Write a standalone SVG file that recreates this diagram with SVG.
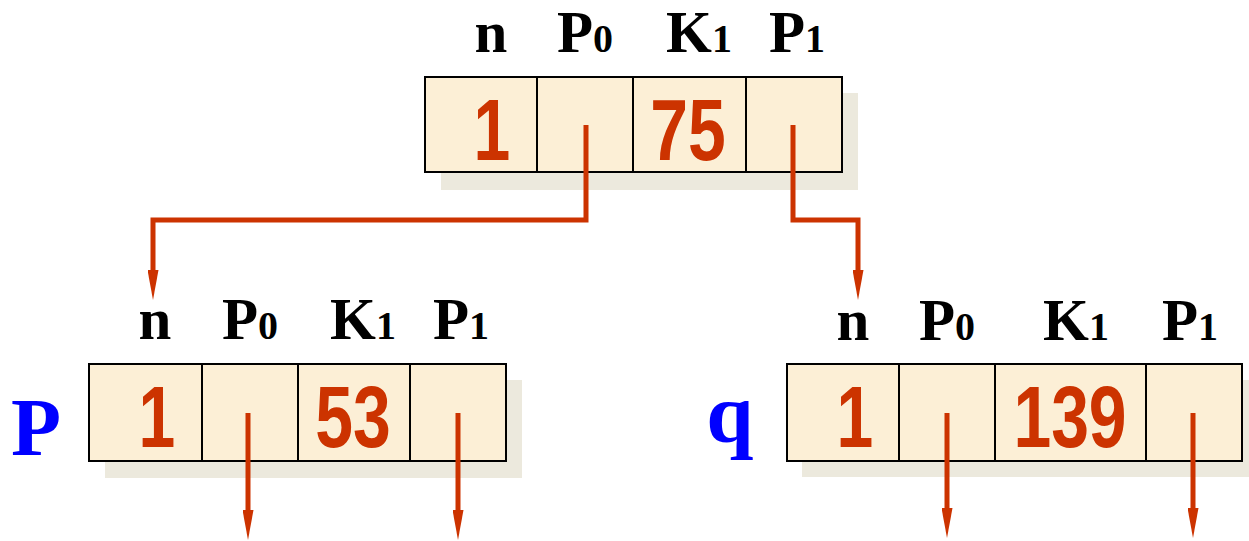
<svg xmlns="http://www.w3.org/2000/svg" width="1249" height="541" viewBox="0 0 1249 541">
  <style>
    .lbl { font-family: "Liberation Serif", "Times New Roman", serif; font-weight: bold; font-size: 59px; fill: #000; }
    .sub { font-size: 40px; }
    .val { font-family: "Liberation Sans", Arial, sans-serif; font-weight: bold; font-size: 87px; fill: #cc3300; }
    .cell { fill: #fcefd6; stroke: #000; stroke-width: 2; }
    .shadow { fill: #ece9dd; }
    .conn { stroke: #cc3300; stroke-width: 5; fill: none; stroke-linejoin: miter; }
    .name { font-family: "Liberation Serif", "Times New Roman", serif; font-weight: bold; fill: #0000ff; }
  </style>
  <defs>
    <marker id="arrow" markerUnits="userSpaceOnUse" markerWidth="30" markerHeight="11" viewBox="0 0 30 11" refX="1" refY="5.5" orient="auto">
      <path d="M0,0 L30,5.5 L0,11 Z" fill="#cc3300"/>
    </marker>
  </defs>

  <g id="root-node">
    <rect class="shadow" x="441" y="93" width="417" height="97"/>
    <rect class="cell" x="425" y="77" width="112" height="95"/>
    <rect class="cell" x="537" y="77" width="96" height="95"/>
    <rect class="cell" x="633" y="77" width="113" height="95"/>
    <rect class="cell" x="746" y="77" width="96" height="95"/>
    <text class="lbl" x="491" y="52" text-anchor="middle">n</text>
    <text class="lbl" x="557" y="52">P<tspan class="sub">0</tspan></text>
    <text class="lbl" x="666" y="52">K<tspan class="sub">1</tspan></text>
    <text class="lbl" x="769" y="52">P<tspan class="sub">1</tspan></text>
    <text class="val" text-anchor="middle" transform="translate(492,160) scale(0.76,1)">1</text>
    <text class="val" text-anchor="middle" transform="translate(688,160) scale(0.78,1)">75</text>
  </g>

  <g id="node-p">
    <rect class="shadow" x="105" y="380" width="417" height="98"/>
    <rect class="cell" x="89" y="364" width="113" height="97"/>
    <rect class="cell" x="202" y="364" width="96" height="97"/>
    <rect class="cell" x="298" y="364" width="112" height="97"/>
    <rect class="cell" x="410" y="364" width="96" height="97"/>
    <text class="name" x="36" y="455" text-anchor="middle" font-size="82">P</text>
    <text class="lbl" x="155" y="339" text-anchor="middle">n</text>
    <text class="lbl" x="222" y="339">P<tspan class="sub">0</tspan></text>
    <text class="lbl" x="330" y="339">K<tspan class="sub">1</tspan></text>
    <text class="lbl" x="433" y="339">P<tspan class="sub">1</tspan></text>
    <text class="val" text-anchor="middle" transform="translate(157,447) scale(0.76,1)">1</text>
    <text class="val" text-anchor="middle" transform="translate(353,447) scale(0.78,1)">53</text>
  </g>

  <g id="node-q">
    <rect class="shadow" x="802" y="380" width="447" height="97"/>
    <rect class="cell" x="787" y="364" width="112" height="97"/>
    <rect class="cell" x="899" y="364" width="96" height="97"/>
    <rect class="cell" x="995" y="364" width="151" height="97"/>
    <rect class="cell" x="1146" y="364" width="96" height="97"/>
    <text class="name" x="730" y="442" text-anchor="middle" font-size="85">q</text>
    <text class="lbl" x="853" y="340" text-anchor="middle">n</text>
    <text class="lbl" x="919" y="340">P<tspan class="sub">0</tspan></text>
    <text class="lbl" x="1043" y="340">K<tspan class="sub">1</tspan></text>
    <text class="lbl" x="1162" y="340">P<tspan class="sub">1</tspan></text>
    <text class="val" text-anchor="middle" transform="translate(855,447) scale(0.76,1)">1</text>
    <text class="val" text-anchor="middle" transform="translate(1070,447) scale(0.78,1)">139</text>
  </g>

  <g id="connectors">
    <path class="conn" d="M586,125 V220 H153 V271" marker-end="url(#arrow)"/>
    <path class="conn" d="M793,125 V220 H858 V271" marker-end="url(#arrow)"/>
    <path class="conn" d="M248,413 V511" marker-end="url(#arrow)"/>
    <path class="conn" d="M458,413 V511" marker-end="url(#arrow)"/>
    <path class="conn" d="M947,413 V509" marker-end="url(#arrow)"/>
    <path class="conn" d="M1193,413 V509" marker-end="url(#arrow)"/>
  </g>
</svg>
